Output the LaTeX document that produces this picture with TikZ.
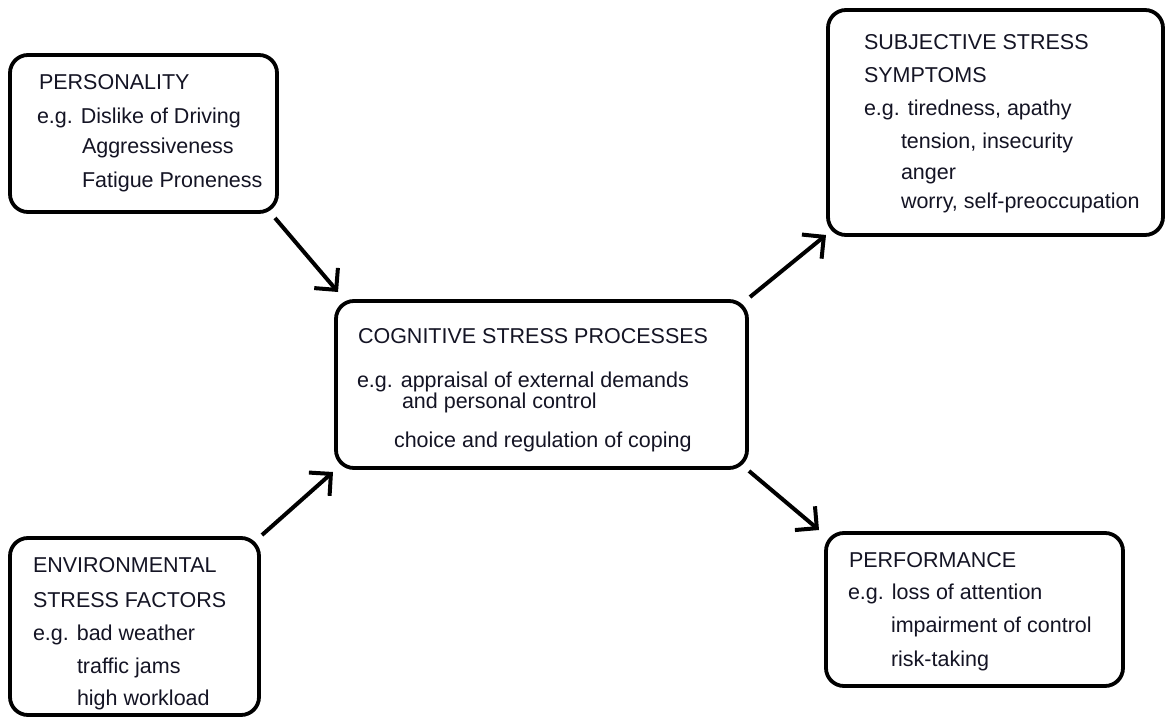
\documentclass[tikz,border=0pt]{standalone}
\usepackage{fontspec}
\setmainfont{Liberation Sans}
\usetikzlibrary{arrows.meta}
\definecolor{ink}{RGB}{20,20,36}
\begin{document}
\begin{tikzpicture}[x=1pt,y=-1pt,
  box/.style={draw=black, line width=3.8pt, rounded corners=18pt, inner sep=0pt, outer sep=0pt},
  txt/.style={anchor=base west, inner sep=0pt, outer sep=0pt, text=ink, font=\fontsize{21.5}{25}\selectfont},
  arr/.style={draw=black, line width=4pt, -{Straight Barb[angle=90:22pt]}}]
\useasboundingbox (0,0) rectangle (1168,717);
\fill[white] (0,0) rectangle (1168,717);

% boxes
\node[box, minimum width=267pt, minimum height=157pt] (P) at (143.5,133.5) {};
\node[box, minimum width=335pt, minimum height=225pt] (S) at (995.5,122.5) {};
\node[box, minimum width=411pt, minimum height=167pt] (C) at (541.5,384.5) {};
\node[box, minimum width=249pt, minimum height=177pt] (E) at (134.5,626.5) {};
\node[box, minimum width=297pt, minimum height=153pt] (F) at (974.5,609.5) {};

% personality
\node[txt] (p1) at (39,89) {PERSONALITY};
\node[txt] (p2) at (37,123) {e.g. Dislike of Driving};
\node[txt] (p3) at (82,153) {Aggressiveness};
\node[txt] (p4) at (82,187) {Fatigue Proneness};

% subjective stress symptoms
\node[txt] (s1) at (864,50) {SUBJECTIVE STRESS};
\node[txt] (s2) at (864,83) {SYMPTOMS};
\node[txt] (s3) at (864,115) {e.g. tiredness, apathy};
\node[txt] (s4) at (901,148) {tension, insecurity};
\node[txt] (s5) at (901,179) {anger};
\node[txt] (s6) at (901,208) {worry, self-preoccupation};

% cognitive stress processes
\node[txt] (c1) at (358,343) {COGNITIVE STRESS PROCESSES};
\node[txt] (c2) at (357,387) {e.g. appraisal of external demands};
\node[txt] (c3) at (402,408) {and personal control};
\node[txt] (c4) at (394,447) {choice and regulation of coping};

% environmental stress factors
\node[txt] (e1) at (33,572) {ENVIRONMENTAL};
\node[txt] (e2) at (33,607) {STRESS FACTORS};
\node[txt] (e3) at (33,640) {e.g. bad weather};
\node[txt] (e4) at (77,673) {traffic jams};
\node[txt] (e5) at (77,705) {high workload};

% performance
\node[txt] (f1) at (849,567) {PERFORMANCE};
\node[txt] (f2) at (848,599) {e.g. loss of attention};
\node[txt] (f3) at (891,632) {impairment of control};
\node[txt] (f4) at (891,666) {risk-taking};

% connectors
\draw[arr] ([shift={(-2,6)}]P.south east) -- ([shift={(2,-9)}]C.north west);
\draw[arr] ([shift={(3,-3)}]E.north east) -- ([shift={(-3,4)}]C.south west);
\draw[arr] ([shift={(3,-4)}]C.north east) -- ([shift={(-2,0)}]S.south west);
\draw[arr] ([shift={(2,3)}]C.south east) -- ([shift={(-7,-3)}]F.north west);
\end{tikzpicture}
\end{document}
